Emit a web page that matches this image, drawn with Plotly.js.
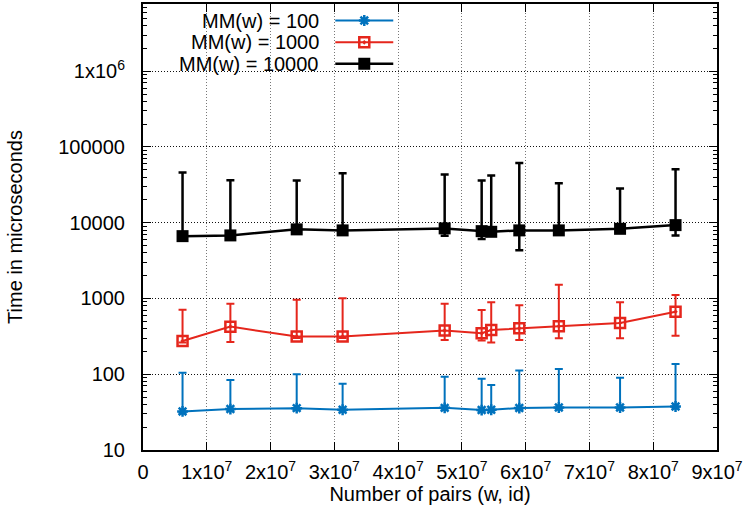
<!DOCTYPE html>
<html>
<head>
<meta charset="utf-8">
<script src="https://cdn.plot.ly/plotly-3.0.1.min.js"></script>
<style>html,body{margin:0;padding:0;background:#fff;}#chart{width:749px;height:520px;}</style>
</head>
<body>
<div id="chart"></div>
<script>
// ---- data ----
var pairs = [6.2e6, 1.37e7, 2.41e7, 3.13e7, 4.73e7, 5.31e7, 5.46e7, 5.90e7, 6.52e7, 7.48e7, 8.35e7];

var seriesNames = ["MM(w) = 100", "MM(w) = 1000", "MM(w) = 10000"];

var mm100     = [32.3, 34.7, 35.7, 34.0, 36.0, 33.7, 34.0, 35.8, 36.4, 36.4, 37.5];
var mm100Low  = [31.0, 33.5, 34.5, 33.0, 35.0, 32.5, 33.0, 34.5, 35.0, 35.0, 36.0];
var mm100High = [105, 84, 100, 75, 93, 87, 72, 112, 117, 90, 137];

var mm1000     = [275, 425, 314, 314, 377, 347, 384, 405, 430, 475, 670];
var mm1000Low  = [262, 267, 300, 300, 284, 278, 262, 284, 299, 299, 321];
var mm1000High = [711, 855, 964, 1007, 855, 705, 891, 813, 1521, 891, 1112];

var mm10000     = [6650, 6800, 8170, 7920, 8420, 7740, 7590, 7920, 7920, 8310, 9300];
var mm10000Low  = [6300, 6400, 7700, 7500, 6720, 6080, 6900, 4320, 7500, 7900, 6800];
var mm10000High = [46000, 36400, 36000, 45000, 43300, 36000, 42000, 61500, 33300, 28300, 50800];

var xTickVals = [0, 1e7, 2e7, 3e7, 4e7, 5e7, 6e7, 7e7, 8e7, 9e7];
var xTickText = ["0", "1x10<sup>7</sup>", "2x10<sup>7</sup>", "3x10<sup>7</sup>", "4x10<sup>7</sup>",
                 "5x10<sup>7</sup>", "6x10<sup>7</sup>", "7x10<sup>7</sup>", "8x10<sup>7</sup>", "9x10<sup>7</sup>"];
var yTickVals = [10, 100, 1000, 10000, 100000, 1000000];
var yTickText = ["10", "100", "1000", "10000", "100000", "1x10<sup>6</sup>"];

// ---- styles ----
var colors = ["#0072bd", "#e5261c", "#000000"];
var symbols = ["asterisk-open", "square-open-dot", "square"];
var symSizes = [9, 10, 12];
var lineWidths = [2, 2, 2.5];

function diffs(a, b) { return a.map(function (v, i) { return Math.abs(v - b[i]); }); }

var vals = [mm100, mm1000, mm10000];
var lows = [mm100Low, mm1000Low, mm10000Low];
var highs = [mm100High, mm1000High, mm10000High];

var traces = [];
for (var s = 0; s < 3; s++) {
  traces.push({
    x: pairs, y: vals[s], type: "scatter", mode: "lines+markers", name: seriesNames[s],
    showlegend: false,
    line: {color: colors[s], width: lineWidths[s]},
    marker: {symbol: symbols[s], size: symSizes[s], color: colors[s],
             line: {color: colors[s], width: s === 2 ? 0 : 2.5}},
    error_y: {type: "data", symmetric: false, array: diffs(highs[s], vals[s]),
              arrayminus: diffs(vals[s], lows[s]), color: colors[s],
              thickness: s === 2 ? 2.5 : 2, width: 4}
  });
}

// custom gnuplot-style legend (text right-aligned, sample to the right) on an overlay axis
var legY = [0.963, 0.914, 0.866];
var annotations = [];
for (var k = 0; k < 3; k++) {
  traces.push({
    x: [0.335, 0.436], y: [legY[k], legY[k]], xaxis: "x2", yaxis: "y2",
    type: "scatter", mode: "lines", showlegend: false, hoverinfo: "skip",
    line: {color: colors[k], width: lineWidths[k]}
  });
  traces.push({
    x: [0.3855], y: [legY[k]], xaxis: "x2", yaxis: "y2",
    type: "scatter", mode: "markers", showlegend: false, hoverinfo: "skip",
    marker: {symbol: symbols[k], size: symSizes[k], color: colors[k],
             line: {color: colors[k], width: k === 2 ? 0 : 2.5}}
  });
  annotations.push({
    xref: "x2", yref: "y2", x: 0.31, y: legY[k], xanchor: "right", yanchor: "middle",
    text: seriesNames[k], showarrow: false,
    font: {family: "Liberation Sans, Arial, sans-serif", size: 20, color: "#000"}
  });
}

var minorVals = [];
for (var d = 10; d <= 1e6; d *= 10) {
  for (var m = 2; m <= 9; m++) minorVals.push(d * m);
}

var font = {family: "Liberation Sans, Arial, sans-serif", size: 20, color: "#000"};

var layout = {
  width: 749, height: 520,
  margin: {l: 142.5, r: 32.3, t: 3.5, b: 69.7},
  paper_bgcolor: "#fff", plot_bgcolor: "#fff",
  font: font,
  showlegend: false,
  xaxis: {
    range: [0, 9e7], tickmode: "array", tickvals: xTickVals, ticktext: xTickText,
    ticks: "inside", ticklen: 8, tickwidth: 1, tickcolor: "#000",
    showline: true, linewidth: 2, linecolor: "#000", mirror: "allticks",
    showgrid: true, gridcolor: "#777", griddash: "1px,2px", gridwidth: 1,
    zeroline: false, tickfont: font, ticklabelstandoff: 3,
    title: {text: "Number of pairs (w, id)", font: font, standoff: 4}
  },
  yaxis: {
    type: "log", range: [1, 6.887], tickmode: "array", tickvals: yTickVals, ticktext: yTickText,
    ticks: "inside", ticklen: 8, tickwidth: 1, tickcolor: "#000",
    minor: {tickmode: "array", tickvals: minorVals, ticks: "inside", ticklen: 4,
            tickwidth: 1, tickcolor: "#000", showgrid: false},
    showline: true, linewidth: 2, linecolor: "#000", mirror: "allticks",
    showgrid: true, gridcolor: "#111", griddash: "1px,2px", gridwidth: 1,
    zeroline: false, tickfont: font, ticklabelstandoff: 12,
    title: {text: "Time in microseconds", font: font, standoff: 30}
  },
  xaxis2: {overlaying: "x", range: [0, 1], visible: false, fixedrange: true},
  yaxis2: {overlaying: "y", range: [0, 1], visible: false, fixedrange: true},
  annotations: annotations
};

Plotly.newPlot("chart", traces, layout, {displayModeBar: false, staticPlot: true});
</script>
</body>
</html>
